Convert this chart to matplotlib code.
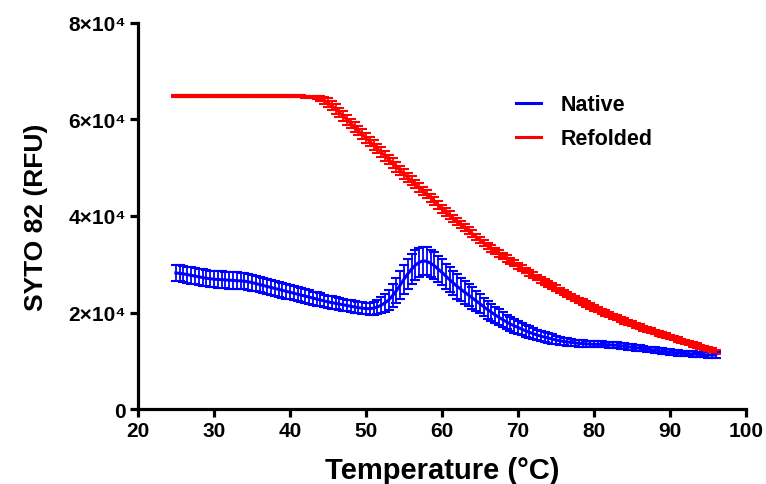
import numpy as np
import matplotlib
matplotlib.use("Agg")
import matplotlib.pyplot as plt
from matplotlib.lines import Line2D

plt.rcParams['font.family'] = ['Liberation Sans', 'DejaVu Sans']
plt.rcParams['font.weight'] = 'bold'

# temperature grid, 0.5 C steps from 25 to 96
temp = np.arange(25.0, 96.5, 0.5)

native_mean = [
    28200, 28100, 28000, 27850, 27700, 27550, 27400, 27250, 27100, 27000,
    26900, 26850, 26800, 26750, 26700, 26650, 26600, 26550, 26500, 26350,
    26200, 26000, 25800, 25600, 25400, 25200, 25000, 24800, 24600, 24400,
    24200, 24000, 23800, 23600, 23400, 23200, 23000, 22800, 22600, 22400,
    22200, 22050, 21900, 21750, 21600, 21450, 21300, 21150, 21000, 20900,
    20800, 20800, 20900, 21150, 21500, 22000, 22600, 23500, 24500, 25700,
    26900, 28000, 29000, 29800, 30400, 30700, 30600, 30200, 29700, 29000,
    28300, 27550, 26800, 26100, 25400, 24800, 24200, 23600, 23000, 22400,
    21800, 21200, 20600, 20050, 19500, 19000, 18500, 18050, 17600, 17250,
    16900, 16550, 16200, 15900, 15600, 15350, 15100, 14900, 14700, 14500,
    14300, 14150, 14000, 13900, 13800, 13700, 13600, 13550, 13500, 13450,
    13400, 13400, 13400, 13350, 13300, 13250, 13200, 13100, 13000, 12900,
    12800, 12700, 12600, 12500, 12400, 12300, 12200, 12100, 12000, 11900,
    11800, 11700, 11600, 11550, 11500, 11450, 11400, 11350, 11300, 11250,
    11200, 11200, 11200,
]
native_err = [
    1650, 1650, 1650, 1650, 1700, 1700, 1700, 1700, 1700, 1700,
    1700, 1700, 1700, 1700, 1750, 1750, 1750, 1700, 1700, 1650,
    1650, 1600, 1600, 1600, 1550, 1550, 1550, 1500, 1500, 1500,
    1450, 1450, 1450, 1400, 1400, 1400, 1350, 1350, 1350, 1300,
    1300, 1300, 1250, 1250, 1250, 1200, 1200, 1200, 1200, 1200,
    1200, 1250, 1350, 1500, 1700, 1900, 2100, 2350, 2600, 2800,
    3000, 3100, 3100, 3100, 3000, 2950, 2900, 2850, 2800, 2750,
    2700, 2600, 2600, 2500, 2500, 2400, 2400, 2300, 2200, 2100,
    2000, 1900, 1850, 1800, 1700, 1650, 1600, 1500, 1450, 1400,
    1350, 1300, 1250, 1200, 1150, 1100, 1050, 1000, 1000, 950,
    900, 850, 800, 800, 750, 700, 700, 650, 650, 600,
    600, 600, 600, 600, 600, 600, 600, 600, 600, 600,
    600, 600, 600, 550, 550, 550, 550, 550, 550, 550,
    550, 550, 550, 550, 550, 550, 550, 550, 550, 550,
    550, 550, 550,
]

refolded_mean = [
    64900, 64900, 64900, 64900, 64900, 64900, 64900, 64900, 64900, 64900,
    64900, 64900, 64900, 64900, 64900, 64850, 64850, 64850, 64850, 64850,
    64850, 64850, 64850, 64850, 64850, 64800, 64800, 64800, 64800, 64800,
    64800, 64800, 64800, 64800, 64750, 64700, 64650, 64600, 64400, 64000,
    63500, 62900, 62200, 61450, 60700, 59950, 59200, 58450, 57700, 56950,
    56200, 55450, 54700, 53950, 53200, 52450, 51700, 50950, 50200, 49450,
    48700, 48000, 47300, 46600, 45900, 45200, 44500, 43800, 43100, 42300,
    41500, 40850, 40200, 39550, 38900, 38250, 37600, 36950, 36300, 35650,
    35000, 34400, 33800, 33250, 32700, 32200, 31700, 31200, 30700, 30200,
    29700, 29200, 28700, 28220, 27750, 27270, 26800, 26350, 25900, 25450,
    25000, 24570, 24150, 23720, 23300, 22900, 22500, 22100, 21700, 21320,
    20950, 20600, 20250, 19900, 19550, 19220, 18900, 18570, 18250, 17950,
    17650, 17350, 17050, 16770, 16500, 16220, 15950, 15670, 15400, 15150,
    14900, 14650, 14400, 14150, 13900, 13650, 13400, 13150, 12900, 12650,
    12400, 12150, 11900,
]
refolded_err = (
    [200] * 30
    + [200, 200, 200, 200, 200, 250, 300, 350, 500, 700]
    + [900] + [1000] * 19
    + [1000, 950, 950, 900, 900, 900, 850, 850, 850, 800]
    + [800, 800, 750, 750, 750, 700, 700, 700, 700, 700]
    + [650] * 10
    + [600] * 20
    + [550] * 10
    + [500] * 10
    + [450] * 10
    + [400, 400, 400]
)

xticks = [20, 30, 40, 50, 60, 70, 80, 90, 100]
yticks = [0, 20000, 40000, 60000, 80000]
ytick_labels = ['0', '2×10⁴', '4×10⁴', '6×10⁴', '8×10⁴']

fig = plt.figure(figsize=(7.66, 4.85), dpi=100)
ax = fig.add_axes([0.180, 0.1546, 0.794, 0.796])

ax.errorbar(temp, native_mean, yerr=native_err, color='#0000ff', lw=2.2,
            elinewidth=1.3, capsize=3.8, capthick=1.5)
ax.errorbar(temp, refolded_mean, yerr=refolded_err, color='#ff0000', lw=2.2,
            elinewidth=1.3, capsize=3.8, capthick=1.5)

ax.set_xlim(20, 100)
ax.set_ylim(0, 80000)
ax.set_xticks(xticks)
ax.set_yticks(yticks)
ax.set_yticklabels(ytick_labels)

for s in ['top', 'right']:
    ax.spines[s].set_visible(False)
for s in ['left', 'bottom']:
    ax.spines[s].set_linewidth(2.3)
ax.tick_params(width=2.3, length=5.5, labelsize=15, pad=3)
for lab in ax.get_xticklabels() + ax.get_yticklabels():
    lab.set_fontweight('bold')

ax.set_xlabel('Temperature (°C)', fontsize=21, fontweight='bold', labelpad=12)
ax.set_ylabel('SYTO 82 (RFU)', fontsize=19, fontweight='bold', labelpad=15)

handles = [Line2D([], [], color='#0000ff', lw=2.2),
           Line2D([], [], color='#ff0000', lw=2.2)]
ax.legend(handles, ['Native', 'Refolded'], loc='upper left',
          bbox_to_anchor=(0.59, 0.865), frameon=False, handlelength=1.15,
          handletextpad=0.9, labelspacing=0.6,
          prop={'size': 15.5, 'weight': 'bold'})

fig.savefig('out.png', dpi=100)
